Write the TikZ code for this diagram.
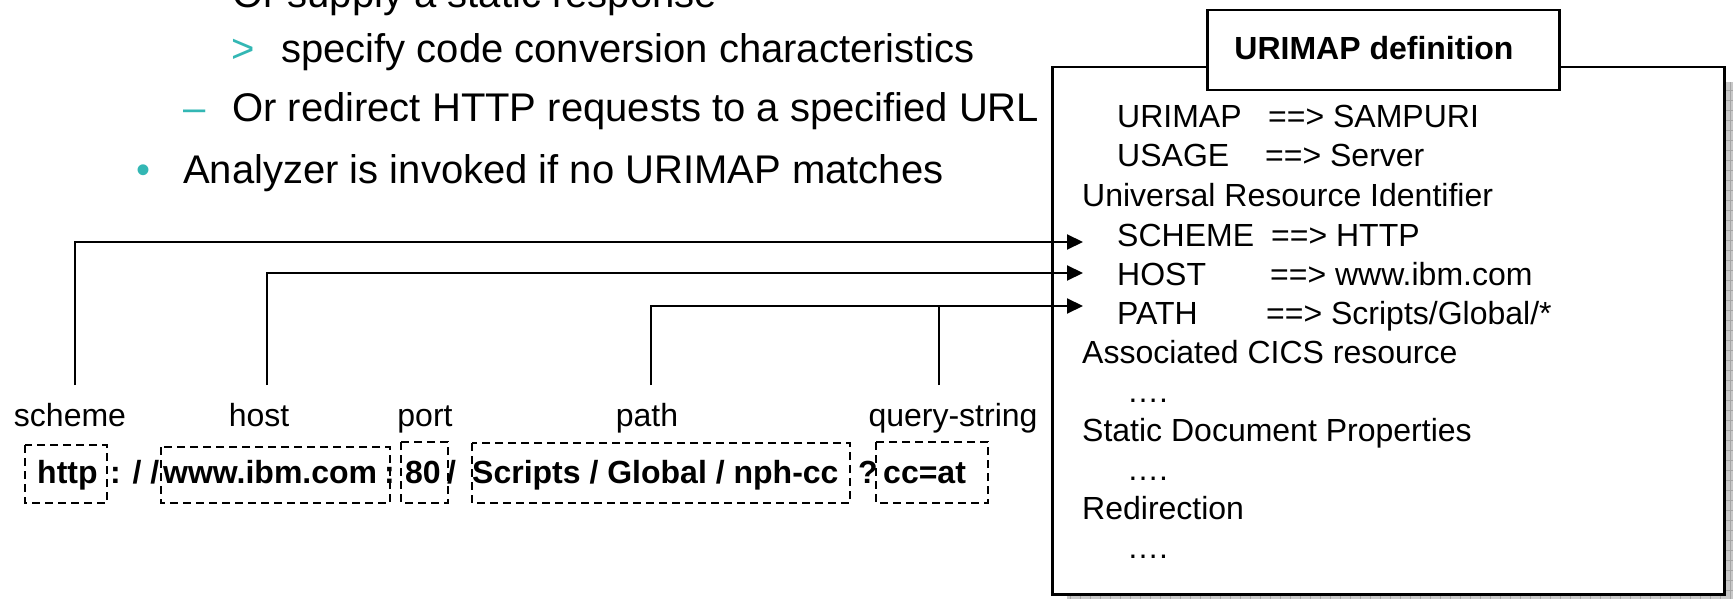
\documentclass[tikz,border=0pt]{standalone}
\usepackage{fontspec}
\setmainfont{Liberation Sans}
\usetikzlibrary{arrows.meta}
\definecolor{tealb}{RGB}{51,183,180}
\definecolor{shadowgray}{RGB}{200,200,200}
\definecolor{gridgray}{RGB}{165,165,165}
\begin{document}
\begin{tikzpicture}[x=1pt,y=-1pt,
  txt/.style={anchor=base west,inner sep=0pt,font=\fontsize{32}{38}\selectfont},
  big/.style={anchor=base west,inner sep=0pt,font=\fontsize{40}{48}\selectfont},
  url/.style={anchor=base west,inner sep=0pt,font=\fontsize{32}{38}\selectfont\bfseries},
  lbl/.style={anchor=base,inner sep=0pt,font=\fontsize{32}{38}\selectfont},
  dbox/.style={draw,dash pattern=on 8pt off 5pt,line width=2pt},
  conn/.style={line width=2pt},
  arr/.style={conn,-{Triangle[length=16pt,width=15pt]}},
  frame/.style={draw,fill=white,line width=2.5pt,anchor=north west,inner sep=0pt},
]
\useasboundingbox (0,0) rectangle (1733,599);

% bullet text
\node[big] (t0) at (232,8) {Or supply a static response};
\node[big,text=tealb] (m1) at (231,63) {>};
\node[big] (t1) at (281,63) {specify code conversion characteristics};
\node[big,text=tealb] (m2) at (183,122) {–};
\node[big] (t2) at (232,122) {Or redirect HTTP requests to a specified URL};
\node[big,text=tealb] (m3) at (136,183) {•};
\node[big] (t3) at (183,183) {Analyzer is invoked if no URIMAP matches};

% shadow
\begin{scope}
\clip (1067,82) rectangle (1733,599);
\fill[shadowgray] (1067,82) rectangle (1733,599);
\draw[gridgray,line width=0.8pt,step=10pt] (1067,82) grid (1733,599);
\end{scope}

% main box
\node[frame,minimum width=672pt,minimum height=527pt] (mainbox) at (1051,66) {};
\node[frame,minimum width=352pt,minimum height=80pt] (titlebox) at (1206,9) {};
\node[anchor=base,inner sep=0pt,font=\fontsize{32}{38}\selectfont\bfseries] (title) at (1374,60) {URIMAP definition};

% box contents
\node[txt] (k1) at (1117,128) {URIMAP};  \node[txt] (v1) at (1268,128) {==> SAMPURI};
\node[txt] (k2) at (1117,167) {USAGE};   \node[txt] (v2) at (1265,167) {==> Server};
\node[txt] (h1) at (1082,206) {Universal Resource Identifier};
\node[txt] (k3) at (1117,246) {SCHEME};  \node[txt] (v3) at (1271,246) {==> HTTP};
\node[txt] (k4) at (1117,285) {HOST};    \node[txt] (v4) at (1270,285) {==> www.ibm.com};
\node[txt] (k5) at (1117,324) {PATH};    \node[txt] (v5) at (1266,324) {==> Scripts/Global/*};
\node[txt] (h2) at (1082,363) {Associated CICS resource};
\node[txt] (d1) at (1127,402) {….};
\node[txt] (h3) at (1082,441) {Static Document Properties};
\node[txt] (d2) at (1127,480) {….};
\node[txt] (h4) at (1082,519) {Redirection};
\node[txt] (d3) at (1127,558) {….};

% labels
\node[lbl] (lscheme) at (70,426) {scheme};
\node[lbl] (lhost) at (259,426) {host};
\node[lbl] (lport) at (425,426) {port};
\node[lbl] (lpath) at (647,426) {path};
\node[lbl] (lquery) at (953,426) {query-string};

% dashed boxes
\draw[dbox] (25,445) rectangle (107,503);
\draw[dbox] (161,447) rectangle (390,503);
\draw[dbox] (401,442) rectangle (448,503);
\draw[dbox] (472,443) rectangle (850,503);
\draw[dbox] (876,442) rectangle (988,503);

% URL text
\node[url] (u1) at (37,483) {http};
\node[url] (u2) at (110,483) {: / /};
\node[url] (u3) at (163,483) {www.ibm.com};
\node[url] (u4) at (384,483) {:};
\node[url] (u5) at (405,483) {80};
\node[url] (u6) at (447,483) {/};
\node[url] (u7) at (472,483) {Scripts / Global / nph-cc};
\node[url] (u8) at (858,483) {?};
\node[url] (u9) at (883,483) {cc=at};

% connectors
\coordinate (cS) at (75,385);  \coordinate (tS) at (1083,242);
\coordinate (cH) at (267,385); \coordinate (tH) at (1083,273);
\coordinate (cP) at (651,385); \coordinate (tP) at (1083,306);
\coordinate (cQ) at (939,385); \coordinate (jQ) at (939,306);
\draw[arr] (cS) |- (tS);
\draw[arr] (cH) |- (tH);
\draw[arr] (cP) |- (tP);
\draw[conn] (cQ) -- (jQ);
\end{tikzpicture}
\end{document}
